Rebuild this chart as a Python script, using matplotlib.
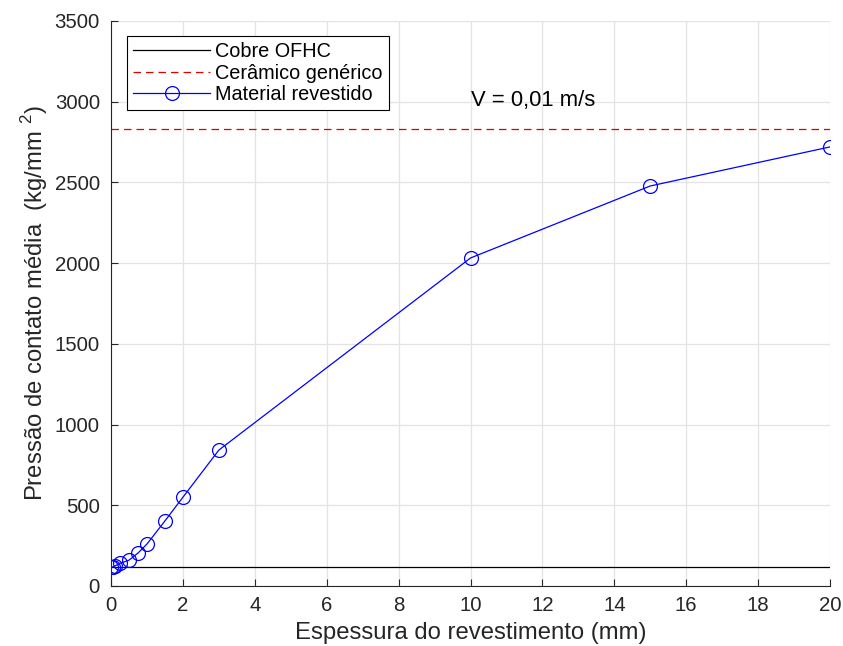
import numpy as np
import matplotlib.pyplot as plt

plt.rcParams['font.family'] = ['Liberation Sans', 'DejaVu Sans']
plt.rcParams['mathtext.fontset'] = 'custom'
plt.rcParams['mathtext.rm'] = 'Liberation Sans'

# espessura do revestimento (mm) e pressao de contato media (kg/mm2)
espessura = [0.01, 0.05, 0.1, 0.25, 0.5, 0.75, 1.0, 1.5, 2.0, 3.0, 10, 15, 20]
pressao_revestido = [115, 118, 123, 140, 160, 204, 260, 403, 550, 842, 2032, 2478, 2720]
pressao_cobre = 118
pressao_ceramico = 2830
x_lim = [0, 20]

fig = plt.figure(figsize=(8.43, 6.46), dpi=100)
ax = fig.add_axes([0.1317, 0.0929, 0.8529, 0.8746])

ax.plot(x_lim, [pressao_cobre, pressao_cobre], '-', color='k', lw=0.9, label='Cobre OFHC')
ax.plot(x_lim, [pressao_ceramico, pressao_ceramico], '--', color='#e00000', lw=0.9,
        dashes=(6, 4), label='Cerâmico genérico')
ax.plot(espessura, pressao_revestido, '-o', color='#0000ff', lw=0.9, ms=10,
        mfc='none', mew=0.9, label='Material revestido')

ax.text(10, 3010, 'V = 0,01 m/s', fontsize=15.8, va='center', ha='left')

ax.set_xlim(x_lim)
ax.set_ylim(0, 3500)
ax.set_xticks(np.arange(0, 21, 2))
ax.set_yticks(np.arange(0, 3501, 500))
ax.grid(True, color='#e3e3e3', lw=0.9)
ax.set_axisbelow(True)
for s in ['top', 'right']:
    ax.spines[s].set_visible(False)
for s in ['left', 'bottom']:
    ax.spines[s].set_color('#262626')
ax.tick_params(direction='in', length=5, labelsize=14.7, colors='#262626', labelcolor='#262626')
ax.tick_params(axis='x', pad=7)
ax.tick_params(axis='y', pad=8)

ax.set_xlabel('Espessura do revestimento (mm)', fontsize=17.2, color='#262626', labelpad=5)
ax.set_ylabel('Pressão de contato média  (kg/mm $^{2}$)', fontsize=17.2, color='#262626', labelpad=3)

leg = ax.legend(loc='upper left', bbox_to_anchor=(0.022, 0.973), fontsize=14.3,
                fancybox=False, framealpha=1, edgecolor='k', handlelength=3.9,
                handletextpad=0.25, borderpad=0.3, labelspacing=0.12, borderaxespad=0)
leg.get_frame().set_linewidth(0.8)

fig.savefig('out.png', dpi=100)
